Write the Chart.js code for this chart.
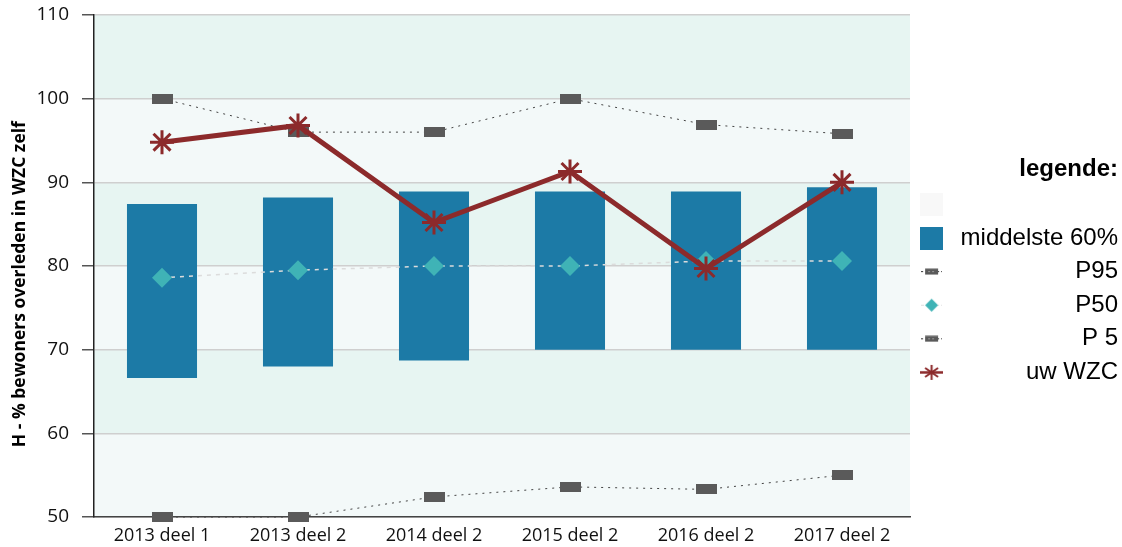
<!DOCTYPE html>
<html>
<head>
<meta charset="utf-8">
<script src="https://cdn.jsdelivr.net/npm/chart.js@4.4.1/dist/chart.umd.min.js"></script>
<style>
  html, body { margin: 0; padding: 0; background: #fff; }
  #wrap { width: 1122px; height: 547px; }
</style>
</head>
<body>
<div id="wrap"><canvas id="chart" width="1122" height="547"></canvas></div>
<script>
    "use strict";

    // Data
    var categories = ["2013 deel 1", "2013 deel 2", "2014 deel 2", "2015 deel 2", "2016 deel 2", "2017 deel 2"];
    var middenLaag = [66.6, 68.0, 68.7, 70.0, 70.0, 70.0];
    var middenHoog = [87.4, 88.2, 88.9, 88.9, 88.9, 89.4];
    var p95 = [100, 96.0, 96.0, 100, 96.9, 95.8];
    var p50 = [78.6, 79.5, 80.0, 80.0, 80.6, 80.6];
    var p5 = [50, 50, 52.4, 53.6, 53.3, 55.0];
    var uwWzc = [94.8, 96.8, 85.2, 91.3, 79.7, 90.0];
    var yTicks = { min: 50, max: 110, step: 10 };

    var barColor = "#1c7aa6";
    var pColor = "#5a5a5a";
    var p50Color = "#3fb3b6";
    var wzcColor = "#8c2a2b";

    // Small icons (markers + legend)
    function makeCanvas(w, h, draw) {
        var c = document.createElement("canvas");
        c.width = w; c.height = h;
        draw(c.getContext("2d"), w, h);
        return c;
    }
    var pRect = makeCanvas(21, 10, function (g, w, h) {
        g.fillStyle = pColor; g.fillRect(0, 0, w, h);
    });
    var iconEmpty = makeCanvas(23, 23, function (g, w, h) {
        g.fillStyle = "#f8f8f8"; g.fillRect(0, 0, w, h);
    });
    var iconBar = makeCanvas(23, 23, function (g, w, h) {
        g.fillStyle = barColor; g.fillRect(0, 0, w, h);
    });
    var iconP = makeCanvas(21, 7, function (g, w, h) {
        g.strokeStyle = "#333"; g.lineWidth = 1; g.setLineDash([2, 2]);
        g.beginPath(); g.moveTo(0, 3.5); g.lineTo(w, 3.5); g.stroke();
        g.fillStyle = pColor; g.fillRect(4, 0.5, 13, 6);
        g.fillStyle = "#999"; g.fillRect(7, 3, 2, 1); g.fillRect(11, 3, 2, 1);
    });
    var iconP50 = makeCanvas(21, 15, function (g, w, h) {
        g.strokeStyle = "#ddd"; g.lineWidth = 1; g.setLineDash([3, 2]);
        g.beginPath(); g.moveTo(0, 7.5); g.lineTo(w, 7.5); g.stroke();
        g.fillStyle = p50Color;
        g.beginPath(); g.moveTo(10.5, 1); g.lineTo(17, 7.5); g.lineTo(10.5, 14); g.lineTo(4, 7.5); g.closePath(); g.fill();
    });
    var iconWzc = makeCanvas(23, 17, function (g, w, h) {
        g.strokeStyle = wzcColor; g.lineWidth = 2.5;
        g.beginPath(); g.moveTo(0, 8.5); g.lineTo(w, 8.5); g.stroke();
        g.lineWidth = 2;
        g.beginPath();
        g.moveTo(11.5, 1); g.lineTo(11.5, 16);
        g.moveTo(5, 4); g.lineTo(18, 13);
        g.moveTo(5, 13); g.lineTo(18, 4);
        g.stroke();
    });

    // Background bands
    var bandsPlugin = {
        id: "bands",
        beforeDraw: function (chart) {
            var a = chart.chartArea, y = chart.scales.y, ctx = chart.ctx;
            ctx.save();
            for (var v = yTicks.min; v < yTicks.max; v += yTicks.step) {
                var i = (v - yTicks.min) / yTicks.step;
                ctx.fillStyle = (i % 2 === 0) ? "#f3f9f9" : "#e7f5f2";
                var top = y.getPixelForValue(v + yTicks.step);
                var bot = y.getPixelForValue(v);
                ctx.fillRect(a.left, top, a.right - a.left, bot - top);
            }
            ctx.restore();
        }
    };

    // Fixed legend width
    var legendWidthPlugin = {
        id: "legendWidth",
        beforeLayout: function (chart) {
            var lg = chart.legend;
            if (lg && !lg._fixedWidth) {
                var fit = lg.fit;
                lg.fit = function () { fit.call(this); this.width = 208; };
                lg._fixedWidth = true;
            }
        }
    };

    var legendIcons = [iconEmpty, iconBar, iconP, iconP50, iconP, iconWzc];
    var legendTexts = ["", "middelste 60%", "P95", "P50", "P 5", "uw WZC"];

    var ctx = document.getElementById("chart").getContext("2d");
    var chart = new Chart(ctx, {
        data: {
            labels: categories,
            datasets: [{
                type: "line",
                label: "uw WZC",
                data: uwWzc,
                borderColor: wzcColor,
                borderWidth: 5,
                pointStyle: "star",
                pointRadius: 12,
                pointBorderWidth: 3,
                pointBorderColor: wzcColor,
                pointBackgroundColor: wzcColor,
                clip: false,
                order: 0
            }, {
                type: "line",
                label: "P95",
                data: p95,
                borderColor: "#444",
                borderWidth: 1,
                borderDash: [2, 5],
                pointStyle: pRect,
                clip: false,
                order: 2
            }, {
                type: "line",
                label: "P50",
                data: p50,
                borderColor: "#dcdcdc",
                borderWidth: 1.5,
                borderDash: [4, 5],
                pointStyle: "rectRot",
                pointRadius: 10,
                pointBackgroundColor: p50Color,
                pointBorderColor: p50Color,
                pointBorderWidth: 0,
                order: 3
            }, {
                type: "line",
                label: "P 5",
                data: p5,
                borderColor: "#444",
                borderWidth: 1,
                borderDash: [2, 5],
                pointStyle: pRect,
                clip: false,
                order: 2
            }, {
                type: "bar",
                label: "middelste 60%",
                data: middenLaag.map(function (v, i) { return [v, middenHoog[i]]; }),
                backgroundColor: barColor,
                barPercentage: 0.515,
                categoryPercentage: 1,
                order: 10
            }]
        },
        options: {
            responsive: false,
            animation: false,
            layout: { padding: { top: 14, right: 4, bottom: 0, left: 0 } },
            plugins: {
                tooltip: { enabled: false },
                legend: {
                    position: "right",
                    align: "start",
                    title: {
                        display: true,
                        text: "legende:",
                        position: "end",
                        color: "#000",
                        font: { family: "'Liberation Sans', Arial", size: 24, weight: "bold" },
                        padding: { top: 143, bottom: -3 }
                    },
                    labels: {
                        usePointStyle: true,
                        boxWidth: 24,
                        boxHeight: 23,
                        padding: 9.6,
                        textAlign: "right",
                        color: "#000",
                        font: { family: "'Liberation Sans', Arial", size: 24 },
                        generateLabels: function () {
                            return legendTexts.map(function (t, i) {
                                return {
                                    text: t,
                                    pointStyle: legendIcons[i],
                                    fillStyle: "transparent",
                                    strokeStyle: "transparent",
                                    lineWidth: 0,
                                    hidden: false,
                                    datasetIndex: i
                                };
                            });
                        }
                    }
                }
            },
            scales: {
                x: {
                    offset: true,
                    afterFit: function (scale) {
                        scale.height = 30;
                    },
                    grid: { display: false, drawTicks: false },
                    border: { display: true, color: "#444", width: 1.5 },
                    ticks: {
                        color: "#111",
                        padding: 8,
                        font: { family: "'Open Sans'", size: 18 }
                    }
                },
                y: {
                    min: yTicks.min,
                    max: yTicks.max,
                    afterFit: function (scale) {
                        scale.width = 94;
                        scale.paddingTop = 0;
                        scale.paddingBottom = 0;
                    },
                    ticks: {
                        stepSize: yTicks.step,
                        color: "#111",
                        padding: 13,
                        font: { family: "'Open Sans'", size: 19 }
                    },
                    grid: {
                        color: "#cfcfcf",
                        lineWidth: 1.5,
                        tickLength: 12,
                        tickColor: "#555"
                    },
                    border: { display: true, color: "#222", width: 1.5 },
                    title: {
                        display: true,
                        text: "H - % bewoners overleden in WZC zelf        ",
                        color: "#000",
                        padding: { top: 9.5, bottom: 4 },
                        font: { family: "'Open Sans'", size: 17.5, weight: "bold" }
                    }
                }
            }
        },
        plugins: [bandsPlugin, legendWidthPlugin]
    });
</script>
</body>
</html>
